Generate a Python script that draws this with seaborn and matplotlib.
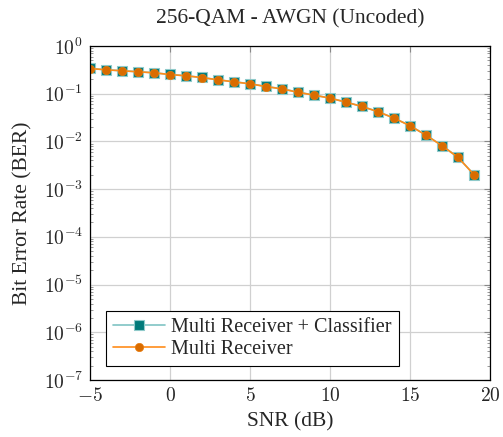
import numpy as np
import pandas as pd
import matplotlib
matplotlib.use("Agg")
import matplotlib.pyplot as plt
import seaborn as sns
from matplotlib.ticker import LogLocator, NullFormatter, FixedLocator

snr = list(range(-5, 20))
ber_classifier = [0.338, 0.318, 0.303, 0.289, 0.275, 0.253, 0.238, 0.219, 0.196, 0.178,
                  0.162, 0.142, 0.127, 0.108, 0.0935, 0.081, 0.0667, 0.0542, 0.042, 0.0309,
                  0.0214, 0.0136, 0.00817, 0.00465, 0.00202]
ber_multi = [0.337, 0.317, 0.302, 0.288, 0.274, 0.252, 0.237, 0.218, 0.195, 0.177,
             0.161, 0.141, 0.126, 0.107, 0.0932, 0.0808, 0.0665, 0.0540, 0.0419, 0.0308,
             0.0213, 0.0135, 0.00815, 0.00463, 0.00201]
title = "256-QAM - AWGN (Uncoded)"
xlabel = "SNR (dB)"
ylabel = "Bit Error Rate (BER)"
label_a = "Multi Receiver + Classifier"
label_b = "Multi Receiver"

sns.set_style("white")
plt.rcParams['font.family'] = ['Liberation Serif', 'DejaVu Serif']
plt.rcParams['mathtext.fontset'] = 'cm'

fig = plt.figure(figsize=(5.03, 4.37), dpi=100)
ax = fig.add_axes([90/503, 1-380/437, 400/503, 334/437])

df = pd.DataFrame({"snr": snr, "a": ber_classifier, "b": ber_multi})
sns.lineplot(data=df, x="snr", y="a", ax=ax, color="#7fc4c4", lw=1.2,
             marker="s", markersize=6.6, markerfacecolor="#007a7a",
             markeredgecolor="#8fcaca", markeredgewidth=0.8, label=label_a)
sns.lineplot(data=df, x="snr", y="b", ax=ax, color="#ff8c1a", lw=1.2,
             marker="o", markersize=6.0, markerfacecolor="#d96c00",
             markeredgecolor="#e87c10", markeredgewidth=0.5, label=label_b)

ax.set_yscale("log")
ax.set_xlim(-5, 20)
ax.set_ylim(1e-7, 1)
ax.xaxis.set_major_locator(FixedLocator([-5, 0, 5, 10, 15, 20]))
ax.set_xticklabels([r"$-5$", r"$0$", r"$5$", r"$10$", r"$15$", r"$20$"])
ax.yaxis.set_minor_locator(LogLocator(base=10, subs=np.arange(2, 10), numticks=20))
ax.yaxis.set_minor_formatter(NullFormatter())
ax.set_yticks([10.0**k for k in range(-7, 1)])
ax.set_yticklabels([r"$10^{%d}$" % k for k in range(-7, 1)])

ax.grid(True, which="major", color="#d0d0d0", lw=0.9)
ax.tick_params(axis="both", which="major", direction="in", length=4, width=0.8,
               color="#888888", labelsize=14, top=True, right=True, pad=5)
ax.tick_params(axis="y", which="minor", direction="in", length=2.5, width=0.6,
               color="#888888", left=True, right=True)
for s in ax.spines.values():
    s.set_color("black")
    s.set_linewidth(0.9)

ax.set_title(title, fontsize=15.5, pad=16)
ax.set_xlabel(xlabel, fontsize=15.5, labelpad=5)
ax.set_ylabel(ylabel, fontsize=15.5, labelpad=8)

leg = ax.legend(loc="lower left", bbox_to_anchor=(0.03, 0.03), fontsize=14.5,
                frameon=True, fancybox=False, edgecolor="black", framealpha=1,
                handlelength=2.6, borderpad=0.35, labelspacing=0.15, handletextpad=0.3,
                borderaxespad=0.2)
leg.get_frame().set_linewidth(0.8)

fig.savefig("out.png", dpi=100)
